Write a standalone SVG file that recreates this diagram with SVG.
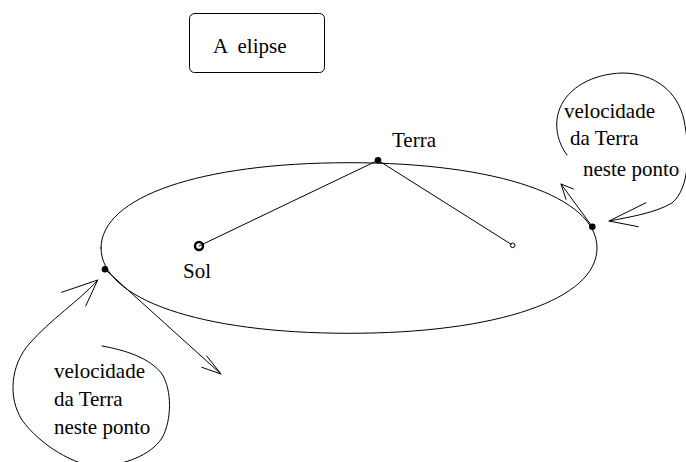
<svg xmlns="http://www.w3.org/2000/svg" width="686" height="462" viewBox="0 0 686 462">
<style>
.ln{fill:none;stroke:#000;stroke-width:1;stroke-linecap:round;stroke-linejoin:round}
.t{font-family:'Liberation Serif','Times New Roman',Times,'DejaVu Serif',serif;font-size:21px;fill:#000}
.dot{fill:#000;stroke:none}
</style>
<rect width="686" height="462" fill="#fff"/>
<g id="title">
<rect x="189.5" y="13.5" width="135" height="59" rx="5" ry="5" class="ln"/>
<text class="t" font-family="Liberation Serif, serif" x="213" y="53" xml:space="preserve">A  elipse</text>
</g>
<g id="orbit">
<path class="ln" d="M101,248 C101,196.8 200.2,162.7 349,162.7 C497.8,162.7 597,196.8 597,248 C597,299.2 497.8,333.3 349,333.3 C200.2,333.3 101,299.2 101,248 Z"/>
</g>
<g id="sol">
<circle cx="199" cy="246" r="4" fill="none" stroke="#000" stroke-width="2.5"/>
<text class="t" x="183" y="278">Sol</text>
</g>
<g id="foco2">
<circle cx="512.7" cy="245.3" r="2.3" fill="#fff" stroke="#000" stroke-width="1"/>
</g>
<g id="terra">
<circle class="dot" cx="378" cy="160.3" r="3.3"/>
<text class="t" x="392" y="147">Terra</text>
</g>
<g id="ponto-esquerdo">
<circle class="dot" cx="105" cy="269.3" r="3.3"/>
</g>
<g id="ponto-direito">
<circle class="dot" cx="592.3" cy="226.7" r="3.3"/>
</g>
<g id="nota-esquerda">
<text class="t" x="54" y="378">velocidade</text>
<text class="t" x="54" y="406">da Terra</text>
<text class="t" x="54" y="434">neste ponto</text>
</g>
<g id="nota-direita">
<text class="t" x="564" y="118">velocidade</text>
<text class="t" x="570" y="145">da Terra</text>
<text class="t" x="583" y="176">neste ponto</text>
</g>
<g id="connectors">
<line class="ln" x1="199" y1="246" x2="378" y2="160.3"/>
<line class="ln" x1="378" y1="160.3" x2="511" y2="244.2"/>
<line class="ln" x1="105" y1="269.3" x2="221" y2="374"/>
<polyline class="ln" points="201.7,367.3 221,374 206.7,356"/>
<line class="ln" x1="592.3" y1="226.7" x2="561" y2="184"/>
<polyline class="ln" points="573.3,189 561,184 566,199.3"/>
<path class="ln" d="M102,346 C125,350 150,358 162,374 C172,390 172,420 162,438 C150,456 125,464 100,467 C75,466 40,445 22,420 C8,398 10,365 30,343 C50,320 80,300 98,280"/>
<polyline class="ln" points="61.7,292.3 97.7,280 85.7,306"/>
<path class="ln" d="M567,155 C558,143 553,125 560,108 C568,88 592,74 622,73 C655,73 678,92 684,120 C690,150 690,188 672,203 C655,213 630,217 609,221"/>
<polyline class="ln" points="646,202.7 609,221 638.3,226.7"/>
</g>
</svg>
